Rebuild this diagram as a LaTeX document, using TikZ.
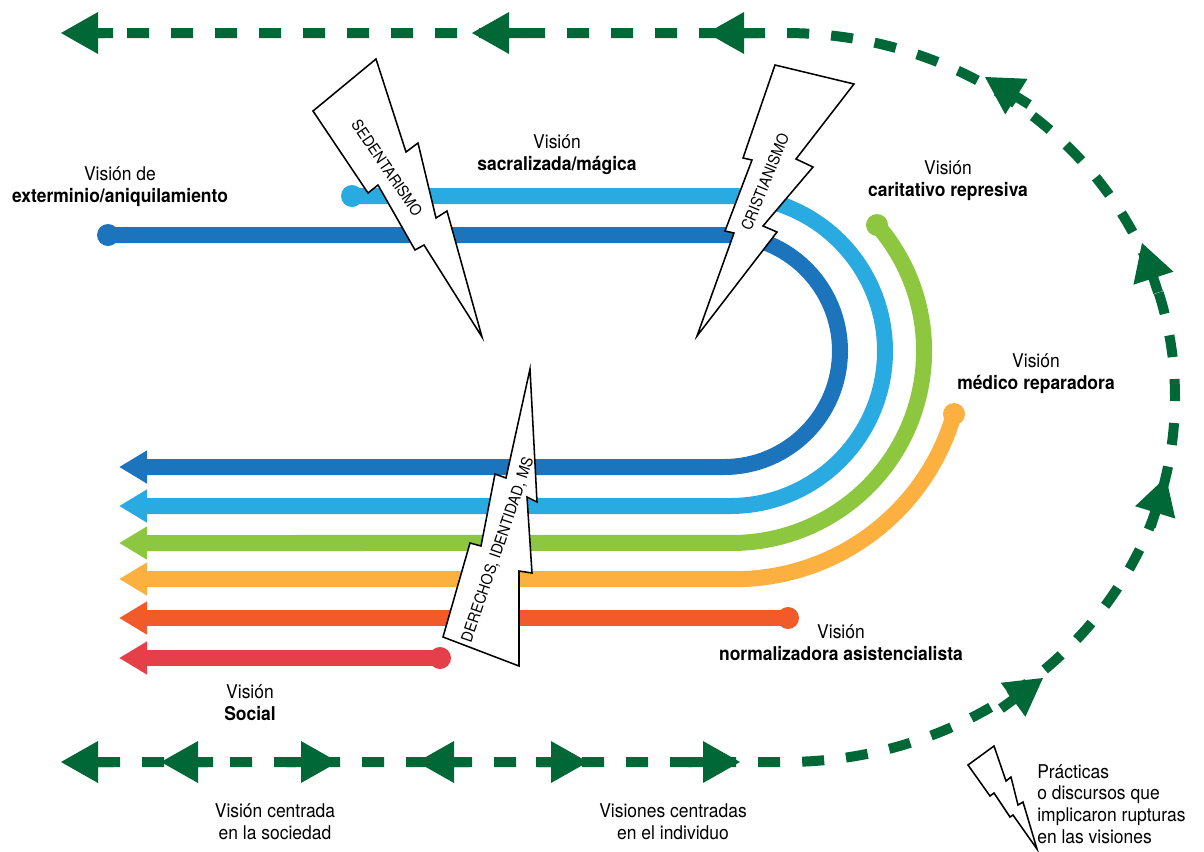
\documentclass[tikz,border=0pt]{standalone}
\usepackage{fontspec}
\setmainfont{TeX Gyre Heros}[FakeStretch=0.92]
\usetikzlibrary{arrows.meta}

\definecolor{exblue}{HTML}{1C75BC}
\definecolor{sablue}{HTML}{29ABE2}
\definecolor{cagreen}{HTML}{8DC63F}
\definecolor{meorange}{HTML}{FBB040}
\definecolor{noorange}{HTML}{F15A29}
\definecolor{sored}{HTML}{E5404A}
\definecolor{rupgreen}{HTML}{006837}

\tikzset{
	vline/.style={line width=0.4cm, -{Triangle[length=0.7cm, width=0.78cm]}},
	bolt/.style={draw=black, fill=white, line width=1.1pt},
	boltlabel/.style={font=\fontsize{11}{13}\selectfont, inner sep=0pt},
	vlabel/.style={font=\fontsize{13.5}{15.5}\selectfont, align=center, inner sep=0pt},
	loopline/.style={rupgreen, line width=0.25cm, dash pattern=on 0.55cm off 0.55cm},
	ghead/.pic={\fill[rupgreen] (0,0) -- (-37,21) -- (-37,5) -- (-52,5) -- (-52,-5) -- (-37,-5) -- (-37,-21) -- cycle;}
}

\begin{document}
\begin{tikzpicture}[x=0.025cm, y=-0.025cm]
	\useasboundingbox (0,0) rectangle (1204,851);
	\coordinate (lpA) at (98,762);
	\coordinate (lpB) at (98,33);
	\draw[loopline] (lpA) -- (785,762) arc[start angle=90, end angle=-90, x radius=390, y radius=364.5] -- (lpB);
	\pic[rotate=180] at (61,33) {ghead};
	\pic[rotate=180] at (472,33) {ghead};
	\pic[rotate=180] at (707,33) {ghead};
	\pic[rotate=148] at (985,77) {ghead};
	\pic[rotate=108] at (1142,243) {ghead};
	\pic[rotate=73] at (1166,477) {ghead};
	\pic[rotate=36] at (1043,678) {ghead};
	\pic at (740,762) {ghead};
	\pic at (588,762) {ghead};
	\pic at (338,762) {ghead};
	\pic[rotate=180] at (417,762) {ghead};
	\pic[rotate=180] at (161,762) {ghead};
	\pic[rotate=180] at (61,762) {ghead};

	\coordinate (exS) at (108,235);
	\coordinate (exE) at (119,467);
	\coordinate (saS) at (352,196);
	\coordinate (saE) at (119,506);
	\coordinate (caS) at (877,225);
	\coordinate (caE) at (119,543);
	\coordinate (meS) at (954,414);
	\coordinate (meE) at (119,579);
	\coordinate (noS) at (788,618);
	\coordinate (noE) at (119,618);
	\coordinate (soS) at (440,658);
	\coordinate (soE) at (119,658);
	\draw[vline, exblue] (exS) -- (724,235) arc[start angle=-90, end angle=90, radius=116] -- (exE);
	\draw[vline, sablue] (saS) -- (730,196) arc[start angle=-90, end angle=90, radius=155] -- (saE);
	\draw[vline, cagreen] (caS) arc[start angle=-41, end angle=90, radius=192] -- (caE);
	\draw[vline, meorange] (meS) arc[start angle=16, end angle=90, radius=228] -- (meE);
	\draw[vline, noorange] (noS) -- (noE);
	\draw[vline, sored] (soS) -- (soE);
	\fill[exblue] (exS) circle[radius=11];
	\fill[sablue] (saS) circle[radius=11];
	\fill[cagreen] (caS) circle[radius=11];
	\fill[meorange] (meS) circle[radius=11];
	\fill[noorange] (noS) circle[radius=11];
	\fill[sored] (soS) circle[radius=11];

	\draw[bolt] (313,111) -- (376,59) -- (406,152) -- (418,143) -- (436,218) -- (447,211) -- (482,337) -- (424,245) -- (415,250) -- (378,185) -- (368,193) -- cycle;
	\draw[bolt] (775,65) -- (854,84) -- (796,159) -- (813,167) -- (763,226) -- (777,232) -- (697,336) -- (734,233) -- (725,231) -- (752,160) -- (743,158) -- cycle;
	\draw[bolt] (530,369) -- (537,502) -- (527,497) -- (532,573) -- (519,571) -- (519,666) -- (443,637) -- (470,543) -- (481,546) -- (495,474) -- (506,478) -- cycle;
	\draw[bolt] (968,765) -- (994,746) -- (1006,781) -- (1011,777) -- (1018,805) -- (1023,802) -- (1037,849) -- (1013,815) -- (1010,817) -- (994,793) -- (990,796) -- cycle;
	\node[boltlabel, rotate=-55.6] (sedtxt) at (387,168) {SEDENTARISMO};
	\node[boltlabel, rotate=67.8] (cristxt) at (765,182) {CRISTIANISMO};
	\node[boltlabel, rotate=71.2] (dertxt) at (498,550) {DERECHOS, IDENTIDAD, MS};

	\node[vlabel] (exlab) at (120,187) {Visión de\\\textbf{exterminio/aniquilamiento}};
	\node[vlabel] (salab) at (557,155) {Visión\\\textbf{sacralizada/mágica}};
	\node[vlabel] (calab) at (948,181) {Visión\\\textbf{caritativo represiva}};
	\node[vlabel] (melab) at (1036,374) {Visión\\\textbf{médico reparadora}};
	\node[vlabel] (nolab) at (841,643) {Visión\\\textbf{normalizadora asistencialista}};
	\node[vlabel] (solab) at (250,703) {Visión\\\textbf{Social}};
	\node[vlabel] (soclab) at (275,822) {Visión centrada\\en la sociedad};
	\node[vlabel] (indlab) at (673,822) {Visiones centradas\\en el individuo};
	\node[vlabel, align=left, anchor=west] (ruplab) at (1037,804) {Prácticas\\o discursos que\\implicaron rupturas\\en las visiones};
\end{tikzpicture}
\end{document}
